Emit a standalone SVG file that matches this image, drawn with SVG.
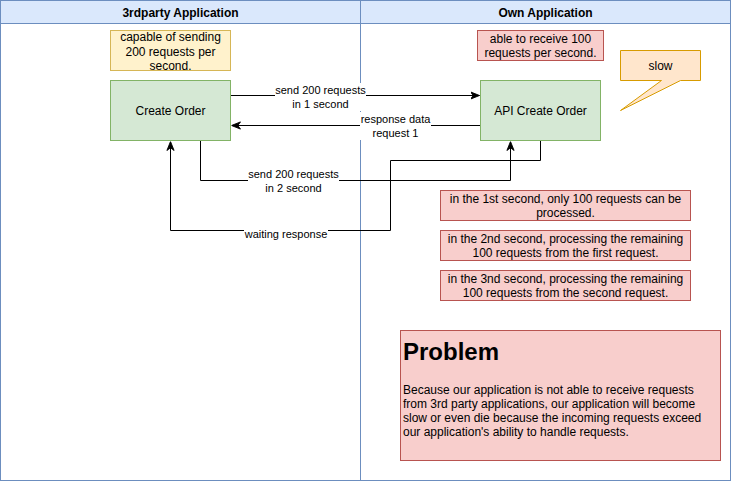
<svg xmlns="http://www.w3.org/2000/svg" width="731" height="481" viewBox="0 0 731 481">
<style>
text{font-family:"Liberation Sans",Arial,sans-serif;fill:#000}
.lane{fill:#fff;stroke:#6c8ebf;stroke-width:1}
.hdr{fill:#dae8fc;stroke:#6c8ebf;stroke-width:1}
.ht{font-size:12px;font-weight:bold;text-anchor:middle}
.green{fill:#d5e8d4;stroke:#82b366}
.red{fill:#f8cecc;stroke:#b85450}
.yel{fill:#fff2cc;stroke:#d6b656}
.org{fill:#ffe6cc;stroke:#d79b00}
.t12{font-size:12px;text-anchor:middle}
.t11{font-size:11px;text-anchor:middle}
.edge{fill:none;stroke:#000;stroke-width:1}
.lbg{fill:#fff}
</style>
<defs>
<marker id="arr" viewBox="0 0 10 10" refX="10" refY="5" markerWidth="9" markerHeight="9" markerUnits="userSpaceOnUse" orient="auto">
<path d="M0,1 L10,5 L0,9 L3,5 Z" fill="#000" stroke="#000" stroke-width="1"/>
</marker>
</defs>
<g id="pool">
<rect class="lane" x="0.5" y="0.5" width="360" height="480"/>
<rect class="hdr" x="0.5" y="0.5" width="360" height="23"/>
<text class="ht" x="180.5" y="16.5">3rdparty Application</text>
<rect class="lane" x="360.5" y="0.5" width="370" height="480"/>
<rect class="hdr" x="360.5" y="0.5" width="370" height="23"/>
<text class="ht" x="545.5" y="16.5">Own Application</text>
</g>
<g id="connectors">
<path class="edge" d="M230,95.5 H479.5" marker-end="url(#arr)"/>
<path class="edge" d="M480,125.5 H231.5" marker-end="url(#arr)"/>
<path class="edge" d="M200.5,140 V180.5 H510.5 V141.5" marker-end="url(#arr)"/>
<path class="edge" d="M540.5,140 V160.5 H390.5 V230.5 H170.5 V141.5" marker-end="url(#arr)"/>
<rect class="lbg" x="275" y="83" width="91" height="28"/>
<text class="t11" x="320.5" y="94">send 200 requests</text>
<text class="t11" x="320.5" y="108">in 1 second</text>
<rect class="lbg" x="360" y="112" width="71" height="28"/>
<text class="t11" x="395.5" y="123">response data</text>
<text class="t11" x="395.5" y="137">request 1</text>
<rect class="lbg" x="248" y="168" width="91" height="27"/>
<text class="t11" x="293.5" y="178">send 200 requests</text>
<text class="t11" x="293.5" y="192">in 2 second</text>
<rect class="lbg" x="244" y="227" width="84" height="13"/>
<text class="t11" x="286" y="238">waiting response</text>
</g>
<g id="note-capable">
<rect class="yel" x="110.5" y="30.5" width="120" height="40"/>
<text class="t12" x="170.5" y="41">capable of sending</text>
<text class="t12" x="170.5" y="55.5">200 requests per</text>
<text class="t12" x="170.5" y="70">second.</text>
</g>
<g id="create-order">
<rect class="green" x="110.5" y="80.5" width="120" height="60"/>
<text class="t12" x="170.5" y="114.5">Create Order</text>
</g>
<g id="note-receive">
<rect class="red" x="477.5" y="30.5" width="126" height="30"/>
<text class="t12" x="540.5" y="42.5">able to receive 100</text>
<text class="t12" x="540.5" y="57">requests per second.</text>
</g>
<g id="api-create-order">
<rect class="green" x="480.5" y="80.5" width="120" height="60"/>
<text class="t12" x="540.5" y="114.5">API Create Order</text>
</g>
<g id="callout-slow">
<path class="org" d="M620.5,50.5 H700.5 V80.5 H680.5 L620.5,110.5 L661.5,80.5 H620.5 Z"/>
<text class="t12" x="660.5" y="69.5">slow</text>
</g>
<g id="note-1st">
<rect class="red" x="440.5" y="190.5" width="250" height="30"/>
<text class="t12" x="565.5" y="202.5">in the 1st second, only 100 requests can be</text>
<text class="t12" x="565.5" y="217">processed.</text>
</g>
<g id="note-2nd">
<rect class="red" x="440.5" y="230.5" width="250" height="30"/>
<text class="t12" x="565.5" y="242.5">in the 2nd second, processing the remaining</text>
<text class="t12" x="565.5" y="257">100 requests from the first request.</text>
</g>
<g id="note-3rd">
<rect class="red" x="440.5" y="270.5" width="250" height="30"/>
<text class="t12" x="565.5" y="282.5">in the 3nd second, processing the remaining</text>
<text class="t12" x="565.5" y="297">100 requests from the second request.</text>
</g>
<g id="problem">
<rect class="red" x="400.5" y="330.5" width="320" height="130"/>
<text x="403" y="360" style="font-size:24px;font-weight:bold">Problem</text>
<text x="403" y="393.5" style="font-size:12px">Because our application is not able to receive requests</text>
<text x="403" y="407.5" style="font-size:12px">from 3rd party applications, our application will become</text>
<text x="403" y="422" style="font-size:12px">slow or even die because the incoming requests exceed</text>
<text x="403" y="436" style="font-size:12px">our application's ability to handle requests.</text>
</g>
</svg>
